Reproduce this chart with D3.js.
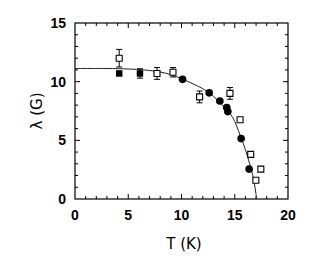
<!DOCTYPE html>
<html lang="en">
<head>
  <meta charset="utf-8">
  <title>lambda vs T</title>
  <script src="https://d3js.org/d3.v7.min.js"></script>
  <style>
    body { margin: 0; background: #fff; }
    .tick-lbl { font-family: "Liberation Sans", Arial, sans-serif; font-weight: bold; font-size: 14px; }
    .ax-lbl { font-family: "DejaVu Sans", sans-serif; font-size: 15px; }
  </style>
</head>
<body>
<div id="chart"></div>
<script>
// open squares (with error bars)
const openT   = [4.15, 7.7, 9.2, 11.7, 14.55, 15.5, 16.5, 16.98, 17.45];
const openL   = [12.0, 10.7, 10.8, 8.7, 9.0, 6.75, 3.8, 1.6, 2.55];
const openErr = [0.75, 0.5, 0.4, 0.5, 0.5, 0, 0, 0, 0];

// filled symbols
const fillT   = [4.15, 6.1, 10.1, 12.6, 13.6, 14.25, 14.35, 15.6, 16.35];
const fillL   = [10.7, 10.7, 10.2, 9.05, 8.35, 7.8, 7.45, 5.15, 2.55];
const fillErr = [0, 0.4, 0, 0, 0, 0, 0, 0, 0];
const fillSq  = [true, true, false, false, false, false, false, false, false];

// fit curve
const fitT = [0, 3, 5, 6.5, 8, 9, 10, 11, 12, 13, 14, 14.8, 15.5, 16, 16.4, 16.7, 16.9, 17.0, 17.05];
const fitL = [11.12, 11.12, 11.08, 11.0, 10.82, 10.6, 10.25, 9.85, 9.4, 8.75, 7.85, 6.95, 5.45, 4.2, 3.0, 2.0, 1.0, 0.4, 0];

const xTicks = [0, 5, 10, 15, 20];
const yTicks = [0, 5, 10, 15];

const W = 332, H = 264;
const x = d3.scaleLinear().domain([0, 20]).range([75, 288]);
const y = d3.scaleLinear().domain([0, 15]).range([199, 23]);

const svg = d3.select("#chart").append("svg")
  .attr("width", W).attr("height", H);

// frame
svg.append("rect")
  .attr("x", x(0)).attr("y", y(15))
  .attr("width", x(20) - x(0)).attr("height", y(0) - y(15))
  .attr("fill", "none").attr("stroke", "#000").attr("stroke-width", 1.2);

// inward ticks on all four sides
const g = svg.append("g").attr("stroke", "#000").attr("stroke-width", 1);
d3.range(1, 20).forEach(t => {
  const len = t % 5 === 0 ? 5 : 3;
  g.append("line").attr("x1", x(t)).attr("x2", x(t)).attr("y1", y(0)).attr("y2", y(0) - len);
  g.append("line").attr("x1", x(t)).attr("x2", x(t)).attr("y1", y(15)).attr("y2", y(15) + len);
});
d3.range(1, 15).forEach(v => {
  const len = v % 5 === 0 ? 5 : 3;
  g.append("line").attr("x1", x(0)).attr("x2", x(0) + len).attr("y1", y(v)).attr("y2", y(v));
  g.append("line").attr("x1", x(20)).attr("x2", x(20) - len).attr("y1", y(v)).attr("y2", y(v));
});

// tick labels
svg.selectAll(".xl").data(xTicks).join("text")
  .attr("class", "tick-lbl")
  .attr("x", d => x(d)).attr("y", 220)
  .attr("text-anchor", "middle").text(d => d);
svg.selectAll(".yl").data(yTicks).join("text")
  .attr("class", "tick-lbl")
  .attr("x", 66).attr("y", d => y(d) + 5)
  .attr("text-anchor", "end").text(d => d);

// axis titles
svg.append("text").attr("class", "ax-lbl")
  .attr("x", 184).attr("y", 249).attr("text-anchor", "middle").text("T (K)");
svg.append("text").attr("class", "ax-lbl")
  .attr("transform", `translate(42,${y(7.5)}) rotate(-90)`)
  .attr("text-anchor", "middle").text("λ (G)");

// fit curve
svg.append("path")
  .datum(fitT.map((t, i) => [t, fitL[i]]))
  .attr("fill", "none").attr("stroke", "#222").attr("stroke-width", 1)
  .attr("d", d3.line().x(d => x(d[0])).y(d => y(d[1])).curve(d3.curveCatmullRom));

// error bars
function errBars(T, L, E) {
  T.forEach((t, i) => {
    if (!E[i]) return;
    const cx = x(t), y1 = y(L[i] + E[i]), y2 = y(L[i] - E[i]);
    g.append("line").attr("x1", cx).attr("x2", cx).attr("y1", y1).attr("y2", y2);
    g.append("line").attr("x1", cx - 3).attr("x2", cx + 3).attr("y1", y1).attr("y2", y1);
    g.append("line").attr("x1", cx - 3).attr("x2", cx + 3).attr("y1", y2).attr("y2", y2);
  });
}
errBars(openT, openL, openErr);
errBars(fillT, fillL, fillErr);

// filled symbols
svg.selectAll(".fp").data(fillT.map((t, i) => ({t, l: fillL[i], sq: fillSq[i]}))).join("path")
  .attr("transform", d => `translate(${x(d.t)},${y(d.l)})`)
  .attr("d", d => d3.symbol(d.sq ? d3.symbolSquare : d3.symbolCircle, d.sq ? 42 : 46)())
  .attr("fill", "#000");

// open symbols
svg.selectAll(".op").data(openT.map((t, i) => ({t, l: openL[i]}))).join("path")
  .attr("transform", d => `translate(${x(d.t)},${y(d.l)})`)
  .attr("d", d3.symbol(d3.symbolSquare, 36)())
  .attr("fill", "#fff").attr("stroke", "#000").attr("stroke-width", 1.1);
</script>
</body>
</html>
